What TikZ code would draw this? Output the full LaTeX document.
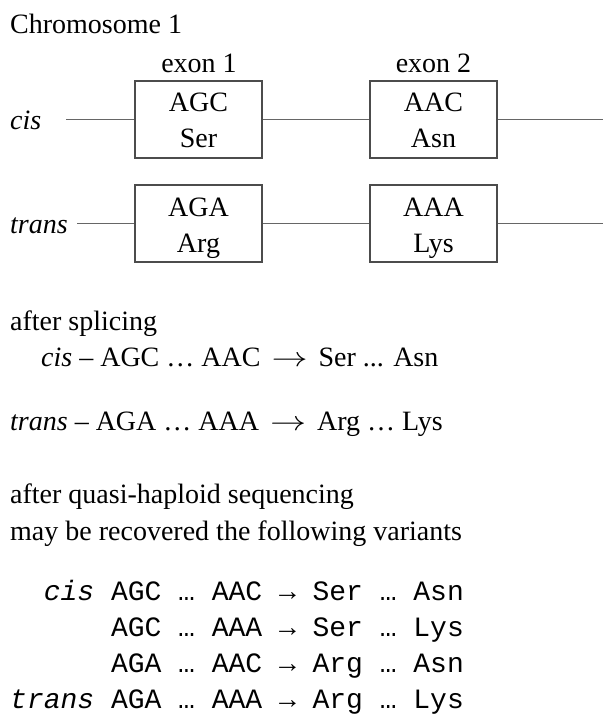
\documentclass[tikz,border=0pt]{standalone}
\usepackage{graphicx}
\usepackage{fontspec}
\setmainfont{Liberation Serif}
\setmonofont{Liberation Mono}
\newcommand{\bigarr}{\scalebox{1.45}[1.1]{$\rightarrow$}}
\begin{document}
\begin{tikzpicture}[x=1pt,y=-1pt,
  txt/.style={inner sep=0pt,font=\fontsize{28}{33}\selectfont},
  mono/.style={inner sep=0pt,font=\ttfamily\fontsize{28}{33}\selectfont},
  exonbox/.style={draw=black!70,line width=1.3pt,minimum width=127pt,minimum height=77pt,inner sep=0pt},
  chrline/.style={draw=black!60,line width=1.3pt}]
\useasboundingbox (0,0) rectangle (603,714);
% header
\node[txt,anchor=base west] (title) at (10,34) {Chromosome 1};
\node[txt,anchor=base] (ex1) at (199,73) {exon 1};
\node[txt,anchor=base] (ex2) at (433.5,73) {exon 2};
% cis row
\node[txt,anchor=base west] (cislbl) at (10,130) {\textit{cis}};
\node[exonbox] (c1) at (198.5,119.5) {};
\node[exonbox] (c2) at (433.5,119.5) {};
\node[txt,anchor=base] (c1a) at (198.5,112) {AGC};
\node[txt,anchor=base] (c1b) at (198.5,148) {Ser};
\node[txt,anchor=base] (c2a) at (433.5,112) {AAC};
\node[txt,anchor=base] (c2b) at (433.5,148) {Asn};
\coordinate (cisstart) at (66,119.5);
\coordinate (cisend) at (603,119.5);
\draw[chrline] (cisstart) -- (c1.west);
\draw[chrline] (c1.east) -- (c2.west);
\draw[chrline] (c2.east) -- (cisend);
% trans row
\node[txt,anchor=base west] (translbl) at (10,233) {\textit{trans}};
\node[exonbox] (t1) at (198.5,223.5) {};
\node[exonbox] (t2) at (433.5,223.5) {};
\node[txt,anchor=base] (t1a) at (198.5,216) {AGA};
\node[txt,anchor=base] (t1b) at (198.5,252) {Arg};
\node[txt,anchor=base] (t2a) at (433.5,216) {AAA};
\node[txt,anchor=base] (t2b) at (433.5,252) {Lys};
\coordinate (transstart) at (77,223.5);
\coordinate (transend) at (603,223.5);
\draw[chrline] (transstart) -- (t1.west);
\draw[chrline] (t1.east) -- (t2.west);
\draw[chrline] (t2.east) -- (transend);
% after splicing
\node[txt,anchor=base west] (splice) at (10,330) {after splicing};
\node[txt,anchor=base west] (spcis) at (41,366) {\textit{cis} – AGC … AAC\hspace{11pt}\bigarr\hspace{11pt}Ser ... Asn};
\node[txt,anchor=base west] (sptrans) at (10,430) {\textit{trans} – AGA … AAA\hspace{11pt}\bigarr\hspace{11pt}Arg … Lys};
% after sequencing
\node[txt,anchor=base west] (seq1) at (10,503) {after quasi-haploid sequencing};
\node[txt,anchor=base west] (seq2) at (10,540) {may be recovered the following variants};
% variants
\node[mono,anchor=base west] (v1) at (10,600) {\ \ \textit{cis} AGC … AAC → Ser … Asn};
\node[mono,anchor=base west] (v2) at (10,636) {\ \ \ \ \ \ AGC … AAA → Ser … Lys};
\node[mono,anchor=base west] (v3) at (10,672) {\ \ \ \ \ \ AGA … AAC → Arg … Asn};
\node[mono,anchor=base west] (v4) at (10,708) {\textit{trans} AGA … AAA → Arg … Lys};
\end{tikzpicture}
\end{document}
